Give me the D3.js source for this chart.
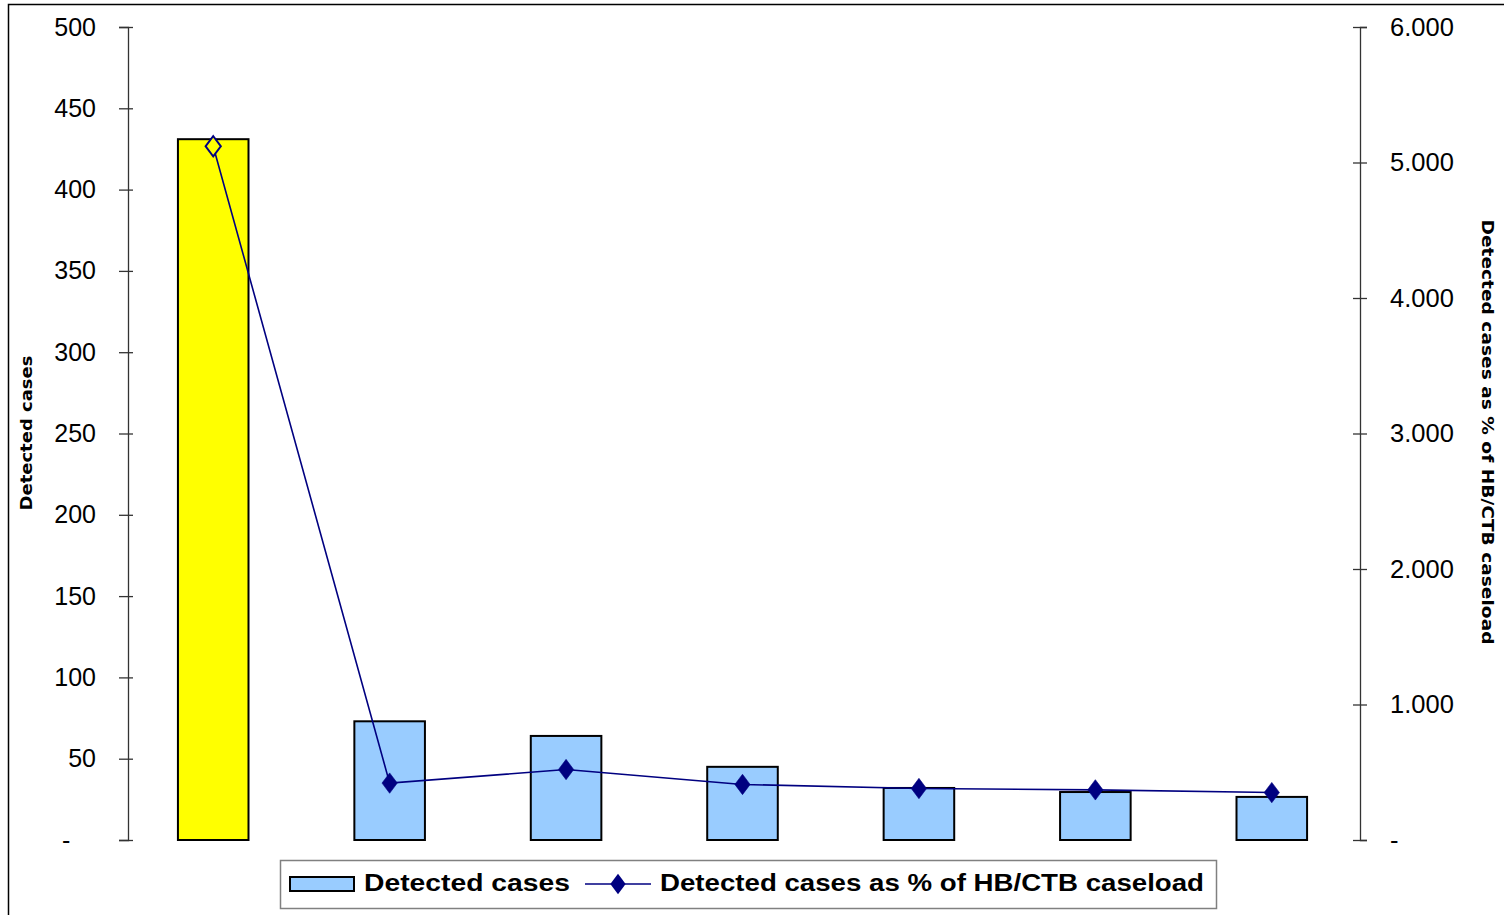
<!DOCTYPE html>
<html>
<head>
<meta charset="utf-8">
<script src="https://cdn.jsdelivr.net/npm/d3@7"></script>
<style>
  body { margin: 0; background: #fff; }
  svg { display: block; font-family: "Liberation Sans", Arial, sans-serif; }
</style>
</head>
<body>
<div id="chart"></div>
<script>
const categories = ["1", "2", "3", "4", "5", "6", "7"];
const detectedCases = [431, 73, 64, 45, 32, 29.5, 26.5];
const pctOfCaseload = [5.12, 0.42, 0.52, 0.41, 0.38, 0.37, 0.35];
const barColors = ["#ffff00", "#99ccff", "#99ccff", "#99ccff", "#99ccff", "#99ccff", "#99ccff"];
const leftTicks = [0, 50, 100, 150, 200, 250, 300, 350, 400, 450, 500];
const rightTicks = [0, 1, 2, 3, 4, 5, 6];
const seriesNames = ["Detected cases", "Detected cases as % of HB/CTB caseload"];

const width = 1504, height = 915;
const margin = { top: 27, right: 144, bottom: 75, left: 128 };

const svg = d3.select("#chart").append("svg")
  .attr("width", width)
  .attr("height", height);

// chart area border
svg.append("rect")
  .attr("x", 8.5).attr("y", 4.5)
  .attr("width", width + 20).attr("height", height + 20)
  .attr("fill", "none").attr("stroke", "#000").attr("stroke-width", 1.5);

const x = d3.scaleBand()
  .domain(categories)
  .range([margin.left - 3, width - margin.right])
  .paddingInner(0.6)
  .paddingOuter(0.3);

const yLeft = d3.scaleLinear().domain([0, 500]).range([height - margin.bottom, margin.top]);
const yRight = d3.scaleLinear().domain([0, 6]).range([height - margin.bottom, margin.top]);

// left axis
const leftAxis = svg.append("g")
  .attr("transform", `translate(${margin.left},0)`)
  .call(d3.axisLeft(yLeft).tickValues(leftTicks).tickSize(9)
    .tickFormat(d => d === 0 ? "-" : d));
leftAxis.select(".domain").attr("stroke", "#333").attr("stroke-width", 1.3);
leftAxis.selectAll(".tick line").attr("stroke", "#333").attr("stroke-width", 1.3).attr("x2", -9).attr("x1", 5);
leftAxis.selectAll(".tick text").attr("x", -32).attr("font-size", 25)
  .attr("font-family", "Liberation Sans, Arial, sans-serif").attr("fill", "#000");
leftAxis.selectAll(".tick text").filter(d => d === 0)
  .attr("text-anchor", "start").attr("x", -66);

// right axis
const rightAxis = svg.append("g")
  .attr("transform", `translate(${width - margin.right},0)`)
  .call(d3.axisRight(yRight).tickValues(rightTicks).tickSize(7)
    .tickFormat(d => d === 0 ? "-" : d3.format(".3f")(d)));
rightAxis.select(".domain").attr("stroke", "#333").attr("stroke-width", 1.3);
rightAxis.selectAll(".tick line").attr("stroke", "#333").attr("stroke-width", 1.3).attr("x1", -7).attr("x2", 7);
rightAxis.selectAll(".tick text").attr("x", 30).attr("font-size", 25.5)
  .attr("font-family", "Liberation Sans, Arial, sans-serif").attr("fill", "#000");

// bars
svg.selectAll("rect.bar")
  .data(detectedCases)
  .enter()
  .append("rect")
  .attr("class", "bar")
  .attr("x", (d, i) => x(categories[i]))
  .attr("y", d => yLeft(d))
  .attr("width", x.bandwidth())
  .attr("height", d => yLeft(0) - yLeft(d))
  .attr("fill", (d, i) => barColors[i])
  .attr("stroke", "#000")
  .attr("stroke-width", 2);

// line
const line = d3.line()
  .x((d, i) => x(categories[i]) + x.bandwidth() / 2)
  .y(d => yRight(d));

svg.append("path")
  .datum(pctOfCaseload)
  .attr("d", line)
  .attr("fill", "none")
  .attr("stroke", "#000080")
  .attr("stroke-width", 1.6);

const diamond = d3.symbol().type(d3.symbolDiamond).size(120);
svg.selectAll("path.marker")
  .data(pctOfCaseload)
  .enter()
  .append("path")
  .attr("class", "marker")
  .attr("transform", (d, i) => `translate(${x(categories[i]) + x.bandwidth() / 2},${yRight(d)}) scale(1.3,1)`)
  .attr("d", diamond)
  .attr("fill", (d, i) => i === 0 ? barColors[0] : "#000080")
  .attr("stroke", "#000080")
  .attr("stroke-width", (d, i) => i === 0 ? 1.6 : 0.5);

// axis titles
svg.append("text")
  .attr("transform", `translate(32,${433}) rotate(-90)`)
  .attr("text-anchor", "middle")
  .attr("font-family", "DejaVu Sans, Verdana, sans-serif")
  .attr("font-weight", "bold")
  .attr("font-size", 16)
  .attr("textLength", 155)
  .attr("lengthAdjust", "spacingAndGlyphs")
  .text("Detected cases");

svg.append("text")
  .attr("transform", `translate(1482,${432}) rotate(90)`)
  .attr("text-anchor", "middle")
  .attr("font-family", "DejaVu Sans, Verdana, sans-serif")
  .attr("font-weight", "bold")
  .attr("font-size", 16)
  .attr("textLength", 425)
  .attr("lengthAdjust", "spacingAndGlyphs")
  .text(seriesNames[1]);

// legend
const legend = svg.append("g");
legend.append("rect")
  .attr("x", 280.5).attr("y", 860.5)
  .attr("width", 936).attr("height", 48)
  .attr("fill", "#fff").attr("stroke", "#808080").attr("stroke-width", 1.5);

legend.append("rect")
  .attr("x", 290).attr("y", 877)
  .attr("width", 64).attr("height", 14)
  .attr("fill", barColors[1]).attr("stroke", "#000").attr("stroke-width", 2);

legend.append("text")
  .attr("x", 364).attr("y", 891)
  .attr("font-size", 23).attr("font-weight", "bold")
  .attr("textLength", 206).attr("lengthAdjust", "spacingAndGlyphs")
  .text(seriesNames[0]);

legend.append("line")
  .attr("x1", 585).attr("x2", 651).attr("y1", 884).attr("y2", 884)
  .attr("stroke", "#000080").attr("stroke-width", 1.6);
legend.append("path")
  .attr("transform", "translate(618,884) scale(1.3,1)")
  .attr("d", diamond)
  .attr("fill", "#000080");

legend.append("text")
  .attr("x", 660).attr("y", 891)
  .attr("font-size", 23).attr("font-weight", "bold")
  .attr("textLength", 544).attr("lengthAdjust", "spacingAndGlyphs")
  .text(seriesNames[1]);
</script>
</body>
</html>
